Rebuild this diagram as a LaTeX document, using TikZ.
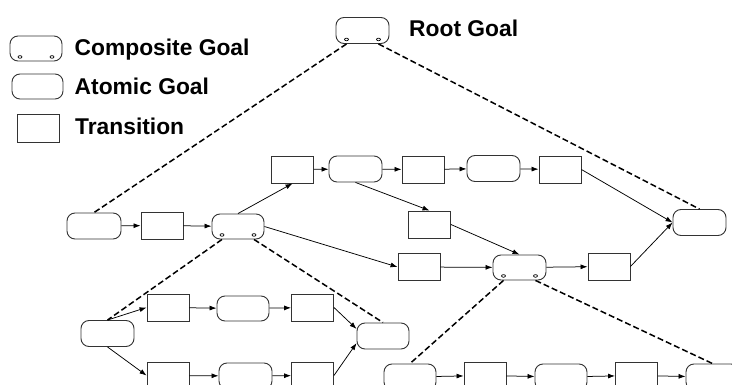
\documentclass[tikz,border=0pt]{standalone}
\usepackage{fontspec}
\setmainfont{Liberation Sans}
\usetikzlibrary{arrows.meta}
\newcommand\compmarks[1]{%
  \path (#1.south) ++(-16,0) coordinate (#1-bl) ++(0,-4.5) coordinate (#1-dl);
  \path (#1.south) ++(16,0) coordinate (#1-br) ++(0,-4.5) coordinate (#1-dr);
  \draw[line width=0.7pt] (#1-dl) ellipse (2pt and 1.3pt);
  \draw[line width=0.7pt] (#1-dr) ellipse (2pt and 1.3pt);}
\begin{document}
\begin{tikzpicture}[x=1pt,y=-1pt,
  goal/.style={draw=black!80, rounded corners=8pt, minimum width=53pt, minimum height=26pt, inner sep=0pt, line width=0.9pt},
  trans/.style={draw=black!80, minimum width=42pt, minimum height=27pt, inner sep=0pt, line width=0.9pt},
  flow/.style={-{Latex[length=7pt,width=5pt]}, line width=0.75pt},
  decomp/.style={dash pattern=on 6pt off 3pt, line width=1.5pt},
  lbl/.style={font=\bfseries\fontsize{22.8}{26}\selectfont, anchor=base west, inner sep=0pt}]
\useasboundingbox (0,0) rectangle (732,385);

% legend
\node[goal, minimum width=52pt, minimum height=25pt] (legC) at (36,48.5) {};
\compmarks{legC}
\node[lbl] (legCt) at (74.5,55.5) {Composite Goal};
\node[goal, minimum width=51pt, minimum height=25pt] (legA) at (37.5,86.5) {};
\node[lbl] (legAt) at (74.5,94.5) {Atomic Goal};
\node[trans, minimum height=28pt] (legT) at (38,128.5) {};
\node[lbl] (legTt) at (75,135) {Transition};

% root
\node[goal] (root) at (362.5,30.5) {};
\compmarks{root}
\node[lbl] (roott) at (409,36.5) {Root Goal};

% middle level
\node[goal, minimum width=54pt] (A) at (94,226) {};
\node[trans] (T1) at (162,225.5) {};
\node[goal, minimum width=52pt, minimum height=25pt] (B) at (238,226.5) {};
\compmarks{B}
\node[trans] (T2) at (292.5,169.5) {};
\node[goal] (C) at (355.5,169) {};
\node[trans] (T3) at (423,169.5) {};
\node[goal] (D) at (493.5,168.5) {};
\node[trans] (T6) at (560,169.5) {};
\node[goal] (E) at (699.5,222.5) {};
\node[trans] (T4) at (429.5,224.5) {};
\node[trans] (T5) at (419,267) {};
\node[goal, minimum height=25pt] (F) at (519.5,267.5) {};
\compmarks{F}
\node[trans] (T7) at (609,266.5) {};

% lower left
\node[goal] (G) at (107.5,333.5) {};
\node[trans] (T8) at (168,307.5) {};
\node[goal, minimum width=52pt, minimum height=25pt] (H) at (243,308.5) {};
\node[trans] (T9) at (312.5,307.5) {};
\node[goal, minimum width=52pt] (I) at (383,336) {};
\node[trans] (T10) at (168,375.5) {};
\node[goal] (J) at (245.5,376) {};
\node[trans] (T11) at (312.5,375.5) {};

% lower right
\node[goal, minimum width=52pt] (K) at (410,377) {};
\node[trans] (T12) at (485,375.5) {};
\node[goal, minimum width=52pt] (L) at (561,377) {};
\node[trans] (T13) at (636.5,375.5) {};
\node[goal] (M) at (712.5,377) {};

% decomposition links
\draw[decomp] (root-bl) -- (A.north);
\draw[decomp] (root-br) -- (E.north);
\draw[decomp] (B-bl) -- (G.north);
\draw[decomp] (B-br) -- (I.north);
\draw[decomp] (F-bl) -- (K.north);
\draw[decomp] (F-br) -- (M.north);

% flows
\draw[flow] (A) -- (T1);
\draw[flow] (T1) -- (B);
\draw[flow] (B.north) -- (T2.south);
\draw[flow] (T2) -- (C);
\draw[flow] (C) -- (T3);
\draw[flow] (T3) -- (D);
\draw[flow] (D) -- (T6);
\draw[flow] (T6.east) -- (E.west);
\draw[flow] (C.south) -- (T4.north);
\draw[flow] (T4.east) -- (F.north);
\draw[flow] (B.east) -- (T5.west);
\draw[flow] (T5) -- (F);
\draw[flow] (F) -- (T7);
\draw[flow] (T7.east) -- (E.west);

\draw[flow] (G.north) -- (T8.west);
\draw[flow] (G.south) -- (T10.west);
\draw[flow] (T8) -- (H);
\draw[flow] (H) -- (T9);
\draw[flow] (T9.east) -- (I.165);
\draw[flow] (T10) -- (J);
\draw[flow] (J) -- (T11);
\draw[flow] (T11.east) -- (I.195);

\draw[flow] (K) -- (T12);
\draw[flow] (T12) -- (L);
\draw[flow] (L) -- (T13);
\draw[flow] (T13) -- (M);
\end{tikzpicture}
\end{document}
